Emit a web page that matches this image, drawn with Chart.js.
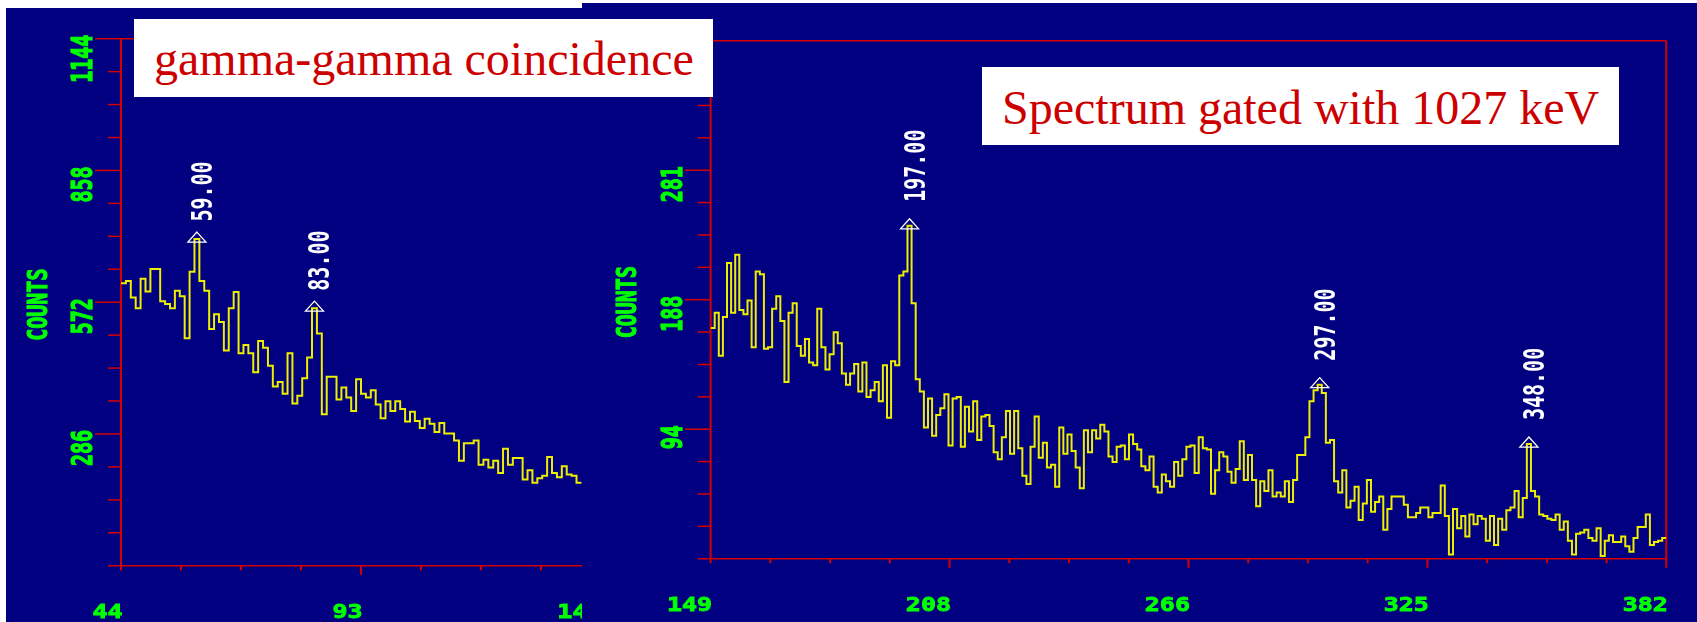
<!DOCTYPE html>
<html>
<head>
<meta charset="utf-8">
<script src="https://cdn.jsdelivr.net/npm/chart.js@4.4.1/dist/chart.umd.min.js"></script>
<style>
  html, body { margin: 0; padding: 0; background: #fff; }
  body { width: 1697px; height: 622px; position: relative; overflow: hidden; }
  .painel { position: absolute; background: #000080; }
  #painel-esq { left: 6px; top: 8px; width: 640px; height: 614px; z-index: 1; }
  #painel-dir { left: 582px; top: 3px; width: 1115px; height: 619px; z-index: 2; }
  .caixa {
    position: absolute; z-index: 3; background: #fff; box-sizing: border-box;
    font-family: "Liberation Serif", "Times New Roman", serif;
    font-size: 48px; line-height: 48px; color: #cc0000; white-space: nowrap;
  }
  #caixa-esq { left: 134px; top: 19px; width: 579px; height: 78px; padding: 16px 0 0 20px; }
  #caixa-dir { left: 982px; top: 67px; width: 637px; height: 78px; padding: 17px 0 0 20px; }
</style>
</head>
<body>
<div class="painel" id="painel-esq"><canvas id="graficoEsq" width="640" height="614"></canvas></div>
<div class="painel" id="painel-dir"><canvas id="graficoDir" width="1115" height="619"></canvas></div>
<div class="caixa" id="caixa-esq">gamma-gamma coincidence</div>
<div class="caixa" id="caixa-dir">Spectrum gated with 1027 keV</div>

<script>
/* espectro de coincidencia (esquerda) - canal inicial 44 */
const inicioEsq = 44;
const contagensEsq = [
  613, 618, 582, 559, 623, 595, 644, 644, 574, 568,
  559, 597, 585, 494, 638, 709, 618, 597, 514, 546,
  529, 467, 559, 594, 461, 479, 461, 420, 488, 473,
  434, 389, 399, 373, 461, 352, 369, 407, 452, 559,
  504, 329, 410, 410, 361, 387, 365, 336, 405, 373,
  365, 381, 350, 320, 357, 336, 357, 340, 313, 334,
  314, 299, 319, 308, 290, 310, 287, 287, 272, 228,
  266, 266, 272, 219, 230, 213, 228, 201, 254, 219,
  234, 234, 187, 207, 180, 190, 195, 236, 201, 192,
  216, 198, 195, 180
];
const xRotulosEsq = ['44', '93', '142'];
const yRotulosEsq = ['286', '572', '858', '1144'];
const picosEsq = [59, 83];

/* espectro com gate em 1027 keV (direita) - canal inicial 149 */
const inicioDir = 149;
const contagensDir = [
  167, 178, 147, 175, 214, 178, 220, 180, 177, 187,
  153, 208, 206, 152, 153, 181, 190, 172, 128, 178,
  185, 154, 147, 159, 142, 140, 181, 153, 137, 148,
  164, 156, 134, 126, 134, 141, 121, 142, 117, 122,
  128, 114, 140, 102, 143, 140, 205, 208, 241, 185,
  130, 121, 95, 116, 89, 104, 109, 119, 82, 116,
  117, 81, 110, 92, 114, 86, 103, 104, 96, 77,
  72, 88, 107, 76, 107, 80, 60, 54, 81, 103,
  73, 84, 66, 68, 52, 95, 76, 90, 78, 66,
  51, 93, 77, 93, 87, 97, 92, 74, 70, 81,
  82, 72, 90, 83, 79, 67, 64, 74, 52, 48,
  61, 56, 52, 70, 60, 72, 81, 82, 62, 88,
  80, 79, 47, 64, 77, 74, 63, 55, 65, 85,
  57, 75, 57, 38, 56, 49, 64, 45, 48, 45,
  56, 41, 57, 75, 75, 88, 114, 122, 126, 120,
  84, 86, 56, 48, 64, 37, 42, 52, 28, 40,
  57, 34, 41, 45, 21, 36, 45, 45, 45, 39,
  30, 30, 33, 37, 37, 30, 33, 33, 53, 31,
  3, 36, 22, 31, 16, 32, 25, 31, 29, 13,
  31, 10, 29, 21, 35, 37, 49, 30, 44, 83,
  49, 45, 32, 31, 29, 28, 32, 21, 27, 13,
  3, 18, 19, 21, 15, 13, 22, 2, 13, 17,
  12, 12, 16, 9, 5, 15, 23, 23, 32, 10,
  12, 13, 15
];
const xRotulosDir = ['149', '208', '266', '325', '382'];
const yRotulosDir = ['94', '188', '281', '375'];
const picosDir = [197, 297, 348];

const VERMELHO = '#d40000';
const VERDE = '#00ff00';
const AMARELO = '#eeee00';

// pontos do histograma: cada canal ocupa [c, c+1)
function montarPontos(inicio, valores) {
  const pts = valores.map((v, i) => ({ x: inicio + i, y: v }));
  pts.push({ x: inicio + valores.length, y: valores[valores.length - 1] });
  return pts;
}

// texto com escala horizontal (a fonte original e esticada)
function texto(ctx, txt, x, y, sx, girar, align, font, cor, contorno) {
  ctx.save();
  ctx.translate(x, y);
  ctx.scale(sx, 1);
  if (girar) ctx.rotate(-Math.PI / 2);
  ctx.font = font;
  ctx.fillStyle = cor;
  ctx.strokeStyle = cor;
  ctx.lineWidth = contorno;
  ctx.textAlign = align;
  ctx.textBaseline = 'alphabetic';
  ctx.fillText(txt, 0, 0);
  if (contorno > 0) ctx.strokeText(txt, 0, 0);
  ctx.restore();
}

function linha(ctx, x1, y1, x2, y2) {
  ctx.beginPath();
  ctx.moveTo(x1, y1);
  ctx.lineTo(x2, y2);
  ctx.stroke();
}

const eixosPlugin = {
  id: 'eixos',
  beforeDatasetsDraw(chart, args, o) {
    const { ctx, chartArea: a, scales: { x, y } } = chart;
    ctx.save();
    ctx.strokeStyle = VERMELHO;
    // moldura
    ctx.lineWidth = 2;
    linha(ctx, a.left, a.top, a.left, a.bottom);
    linha(ctx, a.right, a.top, a.right, a.bottom);
    ctx.lineWidth = 1.5;
    linha(ctx, a.left, a.top, a.right, a.top);
    linha(ctx, a.left - 13, a.bottom, a.right, a.bottom);
    // marcas do eixo x
    const nx = o.xRotulos.length - 1;
    const px = (x.max - x.min) / nx / 4;
    ctx.lineWidth = 2;
    for (let i = 0; i <= nx * 4; i++) {
      const xp = x.getPixelForValue(x.min + i * px);
      const len = (i % 4 === 0 && i > 0) ? 9 : 4.5;
      linha(ctx, xp, a.bottom, xp, a.bottom + len);
    }
    // marcas do eixo y
    const ny = o.yRotulos.length;
    const py = y.max / ny / 4;
    ctx.lineWidth = 1.5;
    for (let i = 1; i <= ny * 4; i++) {
      const yp = y.getPixelForValue(i * py);
      const len = (i % 4 === 0) ? 26 : 13;
      linha(ctx, a.left - len, yp, a.left, yp);
    }
    ctx.restore();
  },
  afterDatasetsDraw(chart, args, o) {
    const { ctx, chartArea: a, scales: { x, y } } = chart;
    const fonte = 'bold 20px "DejaVu Sans Mono"';
    const nx = o.xRotulos.length - 1;
    o.xRotulos.forEach((r, k) => {
      const xp = x.getPixelForValue(x.min + k * (x.max - x.min) / nx);
      texto(ctx, r, xp + 1.5, a.bottom + 52.3, 1.25, false, 'right', fonte, VERDE, 0.9);
    });
    const ny = o.yRotulos.length;
    o.yRotulos.forEach((r, k) => {
      const yp = y.getPixelForValue((k + 1) * y.max / ny);
      texto(ctx, r, a.left - 29, yp - 4, 1.44, true, 'right', fonte, VERDE, 0.9);
    });
    texto(ctx, 'COUNTS', a.left - 74.5, (a.top + a.bottom) / 2 + 2.5, 1.3, true, 'center', fonte, VERDE, 0.9);

    // marcadores de pico
    ctx.save();
    ctx.strokeStyle = '#ffffff';
    ctx.lineWidth = 1.3;
    o.picos.forEach(c => {
      const v = o.valores[c - o.inicio];
      const xp = x.getPixelForValue(c + 0.5);
      const yp = y.getPixelForValue(v);
      ctx.beginPath();
      ctx.moveTo(xp, yp - 7);
      ctx.lineTo(xp + 9, yp + 3);
      ctx.lineTo(xp - 9, yp + 3);
      ctx.closePath();
      ctx.stroke();
      texto(ctx, c.toFixed(2), xp + 15, yp - o.folga, 1.44, true, 'left', fonte, '#ffffff', 0);
    });
    ctx.restore();
  }
};

function criarGrafico(id, inicio, valores, xMin, xMax, yMax, xRotulos, yRotulos, picos, folga, pad) {
  const pontos = montarPontos(inicio, valores);
  return new Chart(document.getElementById(id), {
    type: 'line',
    data: {
      datasets: [
        { data: pontos, stepped: 'before', borderColor: AMARELO, borderWidth: 2, pointRadius: 0, fill: false }
      ]
    },
    options: {
      responsive: false,
      animation: false,
      layout: { padding: pad },
      scales: {
        x: { type: 'linear', min: xMin, max: xMax, display: false },
        y: { type: 'linear', min: 0, max: yMax, display: false }
      },
      plugins: {
        legend: { display: false },
        tooltip: { enabled: false },
        eixos: { xRotulos, yRotulos, picos, valores, inicio, folga }
      }
    },
    plugins: [eixosPlugin]
  });
}

criarGrafico('graficoEsq', inicioEsq, contagensEsq, 44, 142, 1144, xRotulosEsq, yRotulosEsq, picosEsq, 17.5,
  { left: 115, right: 45, top: 30.7, bottom: 56.3 });
criarGrafico('graficoDir', inicioDir, contagensDir, 149, 382, 375, xRotulosDir, yRotulosDir, picosDir, 24,
  { left: 128.6, right: 30.7, top: 37.7, bottom: 63.3 });
</script>
</body>
</html>
